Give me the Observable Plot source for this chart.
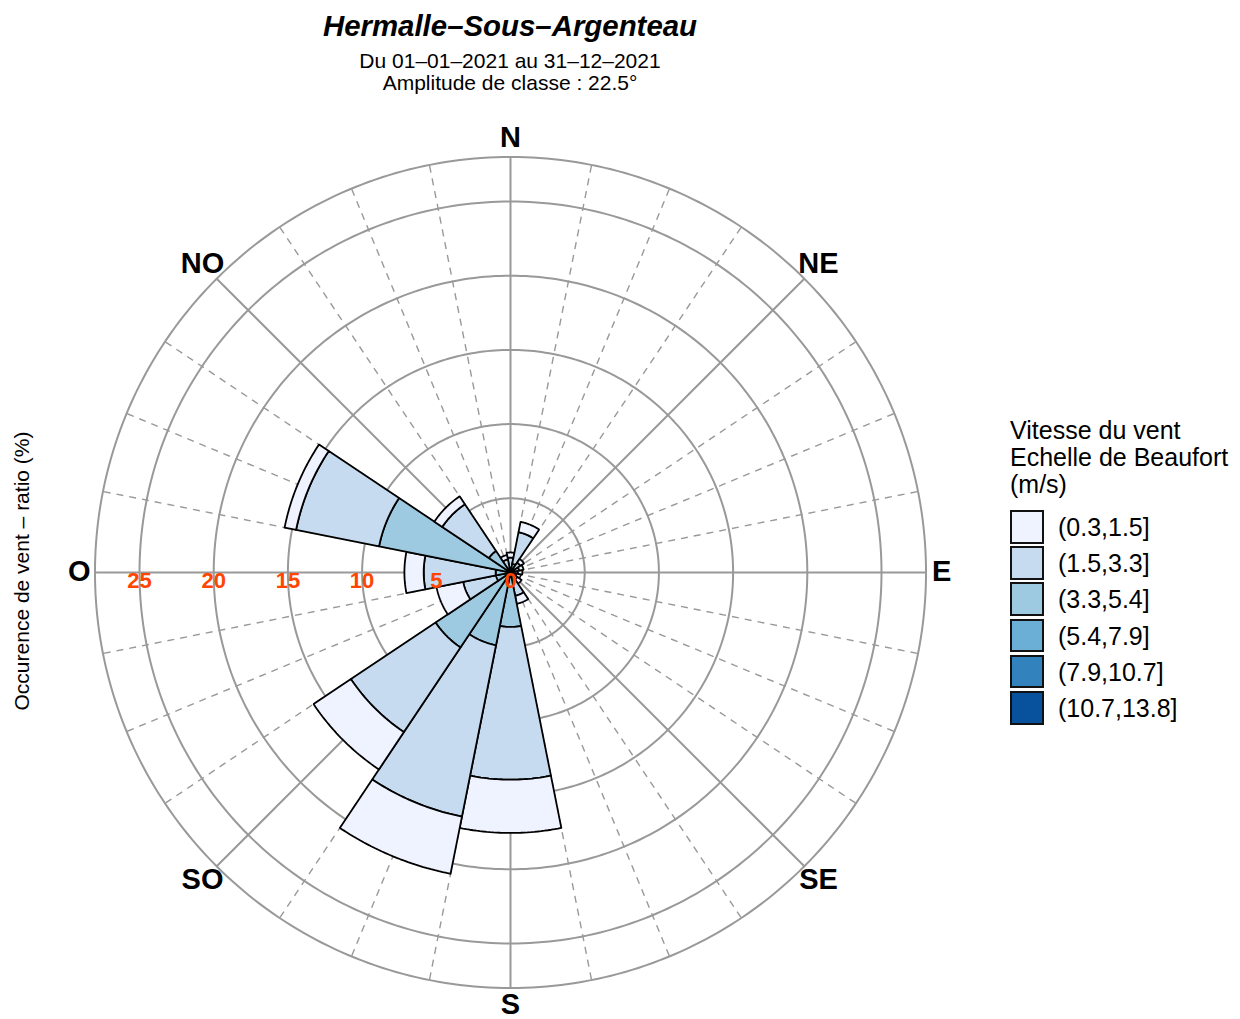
<!DOCTYPE html>
<html><head><meta charset="utf-8">
<script src="https://cdn.jsdelivr.net/npm/d3@7"></script>
<script src="https://cdn.jsdelivr.net/npm/@observablehq/plot@0.6"></script>
<style>
body{margin:0;background:#fff;font-family:"Liberation Sans",Arial,sans-serif;color:#000;}
#wrap{position:relative;width:1240px;height:1019px;overflow:hidden;background:#fff;}
#chart{position:absolute;left:60px;top:122px;}
.title{position:absolute;left:0;width:1020px;text-align:center;font-weight:bold;font-style:italic;font-size:29.4px;line-height:30px;top:11px;}
.sub{position:absolute;left:0;width:1020px;text-align:center;font-size:21px;line-height:22px;}
#ylab{position:absolute;left:22px;top:571px;transform:translate(-50%,-50%) rotate(-90deg);white-space:nowrap;font-size:21px;}
#legend{position:absolute;left:1010px;top:417px;}
#legend .lt{font-size:25px;line-height:27px;white-space:nowrap;}
#legend .row{position:absolute;left:0;height:34px;}
#legend .box{position:absolute;left:0;top:0;width:30px;height:29.5px;border:2px solid #111;}
#legend .lab{position:absolute;left:48px;top:0;line-height:34px;font-size:25px;white-space:nowrap;}
</style></head><body><div id="wrap">
<div class="title">Hermalle–Sous–Argenteau</div>
<div class="sub" style="top:50px">Du 01–01–2021 au 31–12–2021</div>
<div class="sub" style="top:72px">Amplitude de classe : 22.5°</div>
<div id="ylab">Occurence de vent – ratio (%)</div>
<div id="chart"></div>
<div id="legend"></div>
</div>
<script>
// ---- data ----
const directions = ["N","NNE","NE","ENE","E","ESE","SE","SSE","S","SSW","SW","WSW","W","WNW","NW","NNW"];
const directionAngles = [0,22.5,45,67.5,90,112.5,135,157.5,180,202.5,225,247.5,270,292.5,315,337.5];
const speedClasses = ["(0.3,1.5]","(1.5,3.3]","(3.3,5.4]","(5.4,7.9]","(7.9,10.7]","(10.7,13.8]"];
const classColors = ["#EFF3FF","#C6DBEF","#9ECAE1","#6BAED6","#3182BD","#08519C"];
// occurrence (%) per direction, one array per speed class
const pct_0_3_1_5   = [0.35,0.71,0.30,0.30,0.30,0.30,0.35,0.55,3.59,3.93,3.03,1.83,1.30,0.79,0.64,0.30];
const pct_1_5_3_3   = [0.70,2.17,0.50,0.40,0.35,0.30,0.40,1.00,10.29,11.77,6.86,2.25,4.85,5.70,3.78,0.60];
const pct_3_3_5_4   = [0.30,0.50,0.30,0.20,0.15,0.10,0.15,0.55,3.37,4.70,5.77,0.90,0.90,8.73,1.65,0.30];
const pct_5_4_7_9   = [0,0.10,0,0,0,0,0,0.05,0.30,0.30,0.30,0.10,0.10,0.30,0.10,0];
const pct_7_9_10_7  = [0,0,0,0,0,0,0,0,0,0,0,0,0,0,0,0];
const pct_10_7_13_8 = [0,0,0,0,0,0,0,0,0,0,0,0,0,0,0,0];
const ringValues = [5,10,15,20,25,28];
const radialLabels = [0,5,10,15,20,25];
const compassLabels = ["N","NE","E","SE","S","SO","O","NO"];
const compassAngles = [0,45,90,135,180,225,270,315];
const spokeAngles = d3.range(0,360,11.25);
const legendTitle = ["Vitesse du vent","Echelle de Beaufort","(m/s)"];

// ---- geometry helpers ----
const classSeries = [pct_0_3_1_5,pct_1_5_3_3,pct_3_3_5_4,pct_5_4_7_9,pct_7_9_10_7,pct_10_7_13_8];
const rad = a => a*Math.PI/180;
const polar = (a,r) => ({x: r*Math.sin(rad(a)), y: r*Math.cos(rad(a))});
const halfWidth = 11.25;
const sectors = [];
directions.forEach((d,i)=>{
  let r0 = 0;
  for (let k = classSeries.length-1; k>=0; --k){
    const v = classSeries[k][i];
    if (!(v>0)) continue;
    const r1 = r0+v, id = d+"-"+k, cls = speedClasses[k];
    const a0 = directionAngles[i]-halfWidth, a1 = directionAngles[i]+halfWidth, n = 30;
    for (let j=0;j<=n;j++) sectors.push({id,cls,...polar(a0+(a1-a0)*j/n,r1)});
    for (let j=n;j>=0;j--) sectors.push({id,cls,...polar(a0+(a1-a0)*j/n,r0)});
    sectors.push({id,cls,...polar(a0,r1)});
    r0 = r1;
  }
});
const rings = [];
ringValues.forEach(r=>{ for (let a=0;a<=360;a+=1) rings.push({r,...polar(a,r)}); });
const outerR = ringValues[ringValues.length-1];
const solidSpokes = spokeAngles.filter(a=>a%45===0).map(a=>({a,p0:polar(a,0),p1:polar(a,outerR)}));
const dashSpokes = spokeAngles.filter(a=>a%45!==0).map(a=>({a,p0:polar(a,1.2),p1:polar(a,outerR)}));
const labelRadius = a => a%180===0 ? 29.2 : (a%90===0 ? 29.05 : 29.35);
const compass = compassLabels.map((t,i)=>({t,...polar(compassAngles[i], labelRadius(compassAngles[i]))}));

const R = 450/14.84;
const chart = Plot.plot({
  width: 900, height: 900, margin: 0,
  x: {domain: [-R,R], axis: null},
  y: {domain: [-R,R], axis: null},
  color: {domain: speedClasses, range: classColors},
  style: {fontFamily: "'Liberation Sans', Arial, sans-serif", overflow: "visible", background: "transparent"},
  marks: [
    Plot.line(rings, {x:"x", y:"y", z:"r", stroke:"#999", strokeWidth:2}),
    Plot.link(dashSpokes, {x1:d=>d.p0.x, y1:d=>d.p0.y, x2:d=>d.p1.x, y2:d=>d.p1.y, stroke:"#999", strokeWidth:1.4, strokeDasharray:"7,6"}),
    Plot.link(solidSpokes, {x1:d=>d.p0.x, y1:d=>d.p0.y, x2:d=>d.p1.x, y2:d=>d.p1.y, stroke:"#999", strokeWidth:2}),
    Plot.line(sectors, {x:"x", y:"y", z:"id", fill:"cls", stroke:"#000", strokeWidth:1.8, strokeLinejoin:"miter"}),
    Plot.text(radialLabels, {x:d=>-d, y:0, dy:8, text:d=>String(d), fill:"#FF4500", fontWeight:"bold", fontSize:22}),
    Plot.text(compass, {x:"x", y:"y", dy:-1, text:"t", fill:"#000", fontWeight:"bold", fontSize:29})
  ]
});
document.getElementById("chart").appendChild(chart);

// legend
const lg = document.getElementById("legend");
legendTitle.forEach(t=>{ const e=document.createElement("div"); e.className="lt"; e.textContent=t; lg.appendChild(e); });
speedClasses.forEach((c,i)=>{
  const row=document.createElement("div"); row.className="row"; row.style.top=(93+i*36.2)+"px";
  const b=document.createElement("div"); b.className="box"; b.style.background=classColors[i];
  const l=document.createElement("div"); l.className="lab"; l.textContent=c;
  row.appendChild(b); row.appendChild(l); lg.appendChild(row);
});
</script>
</body></html>
